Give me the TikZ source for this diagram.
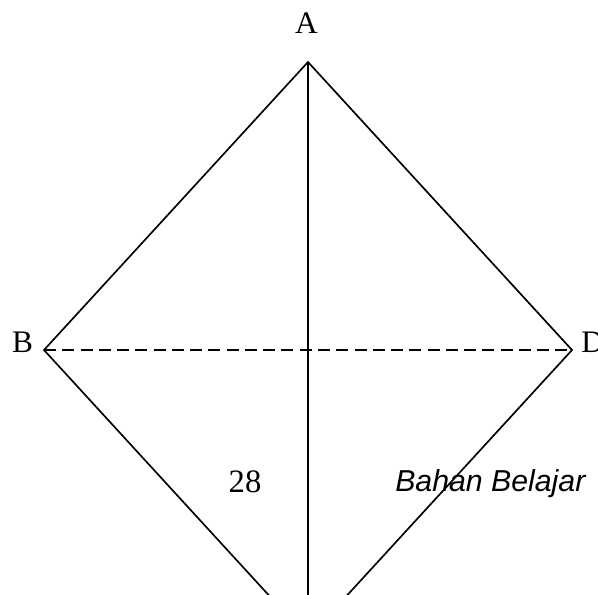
\documentclass[tikz,border=0pt]{standalone}
\usepackage{fontspec}
\setmainfont{Liberation Serif}
\newfontfamily\sansfam{Liberation Sans}
\begin{document}
\begin{tikzpicture}[x=0.75pt,y=-0.75pt,
  edge/.style={line width=1.25pt, black},
  dashedge/.style={line width=1.25pt, black, dash pattern=on 9pt off 4.7pt},
  lbl/.style={font=\fontsize{23.5}{28}\selectfont, inner sep=0pt},
  note/.style={font=\sansfam\itshape\fontsize{22.7}{27}\selectfont, inner sep=0pt}]
\useasboundingbox (0,0) rectangle (598,594);
\clip (0,0) rectangle (598,594);
\coordinate (A) at (308,62);
\coordinate (B) at (44,350);
\coordinate (C) at (308,638);
\coordinate (D) at (572,350);
\draw[edge] (A) -- (B) -- (C) -- (D) -- cycle;
\draw[edge] (A) -- (C);
\draw[dashedge] (B) -- (D);
\node[lbl, anchor=base] (la) at (306.5,33) {A};
\node[lbl, anchor=base] (lb) at (22.5,352) {B};
\node[lbl, anchor=base west] (ld) at (581,352) {D};
\node[lbl, anchor=base, font=\fontsize{24.5}{29}\selectfont] (n28) at (245,492) {28};
\node[note, anchor=base west] (bb) at (395,491) {Bahan Belajar};
\end{tikzpicture}
\end{document}
